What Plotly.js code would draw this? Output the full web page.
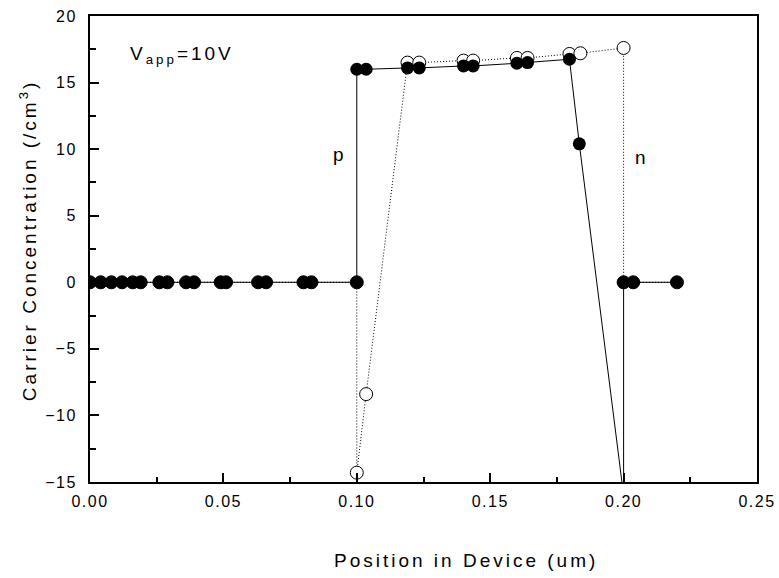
<!DOCTYPE html>
<html>
<head>
<meta charset="utf-8">
<script src="https://cdn.plot.ly/plotly-3.0.1.min.js"></script>
<style>
  html, body { margin: 0; padding: 0; background: #fff; }
  #chart { width: 779px; height: 578px; }
  .xtick text, .ytick text { letter-spacing: 1.5px; }
  .annotation-text { letter-spacing: 3px; }
</style>
</head>
<body>
<div id="chart"></div>
<script>
// Filled circles (solid line)
const filledX = [0, 0.004, 0.008, 0.012, 0.016, 0.019, 0.026, 0.029, 0.036, 0.039, 0.049, 0.051, 0.063, 0.066, 0.080, 0.083, 0.100,
                 0.100, 0.1035, 0.119, 0.1234, 0.140, 0.1436, 0.160, 0.164, 0.1797, 0.1834, 0.200, 0.200, 0.2036, 0.220];
const filledY = [0, 0, 0, 0, 0, 0, 0, 0, 0, 0, 0, 0, 0, 0, 0, 0, 0,
                 16.0, 16.0, 16.1, 16.1, 16.25, 16.25, 16.45, 16.5, 16.75, 10.4, -16, 0, 0, 0];
// Open circles (dotted line)
const openX = [0, 0.004, 0.008, 0.012, 0.016, 0.019, 0.026, 0.029, 0.036, 0.039, 0.049, 0.051, 0.063, 0.066, 0.080, 0.083, 0.100,
               0.100, 0.1035, 0.119, 0.1234, 0.140, 0.1436, 0.160, 0.164, 0.1797, 0.1838, 0.200, 0.200, 0.2036, 0.220];
const openY = [0, 0, 0, 0, 0, 0, 0, 0, 0, 0, 0, 0, 0, 0, 0, 0, 0,
               -14.3, -8.4, 16.5, 16.5, 16.65, 16.65, 16.85, 16.85, 17.15, 17.2, 17.6, 0, 0, 0];

const xTickVals = [0, 0.05, 0.10, 0.15, 0.20, 0.25];
const xTickText = ['0.00', '0.05', '0.10', '0.15', '0.20', '0.25'];
const yTickVals = [-15, -10, -5, 0, 5, 10, 15, 20];

const labelFont = {family: 'Liberation Sans, Arial, sans-serif', size: 19, color: '#000'};

const traces = [
  {
    x: openX, y: openY, type: 'scatter', mode: 'lines+markers',
    line: {color: '#000', width: 1, dash: '1px,2px'},
    marker: {symbol: 'circle', size: 13, color: '#fff', line: {color: '#000', width: 1}},
    showlegend: false, hoverinfo: 'skip'
  },
  {
    x: filledX, y: filledY, type: 'scatter', mode: 'lines+markers',
    line: {color: '#000', width: 1},
    marker: {symbol: 'circle', size: 13, color: '#000', line: {color: '#000', width: 0}},
    showlegend: false, hoverinfo: 'skip'
  }
];

const axisCommon = {
  showgrid: false, zeroline: false,
  showline: true, linecolor: '#000', linewidth: 2, mirror: true,
  ticks: 'inside', ticklen: 9, tickwidth: 2, tickcolor: '#000',
  tickfont: {family: 'Liberation Sans, Arial, sans-serif', size: 16, color: '#000'}
};

const layout = {
  width: 779, height: 578,
  margin: {l: 90, r: 22, t: 16, b: 96},
  paper_bgcolor: '#fff', plot_bgcolor: '#fff',
  showlegend: false,
  xaxis: Object.assign({}, axisCommon, {
    range: [0, 0.25], tickmode: 'array', tickvals: xTickVals, ticktext: xTickText,
    ticklabelstandoff: 4,
    minor: {ticks: 'inside', ticklen: 5, tickwidth: 2, tickcolor: '#000', dtick: 0.025, tick0: 0}
  }),
  yaxis: Object.assign({}, axisCommon, {
    range: [-15, 20], tickmode: 'array', tickvals: yTickVals,
    ticklabelstandoff: 8,
    minor: {ticks: 'inside', ticklen: 6, tickwidth: 2, tickcolor: '#000', dtick: 2.5, tick0: 0}
  }),
  annotations: [
    {x: 0.0143, y: 17.1, xref: 'x', yref: 'y', xanchor: 'left', yanchor: 'middle',
     text: 'V<sub>app</sub>=10V', showarrow: false, font: labelFont},
    {x: 0.0937, y: 9.6, xref: 'x', yref: 'y', xanchor: 'center', yanchor: 'middle',
     text: 'p', showarrow: false, font: labelFont},
    {x: 0.207, y: 9.4, xref: 'x', yref: 'y', xanchor: 'center', yanchor: 'middle',
     text: 'n', showarrow: false, font: labelFont},
    {x: 0.564, y: 0, xref: 'paper', yref: 'paper', xanchor: 'center', yanchor: 'middle',
     yshift: -78, text: 'Position in Device (um)', showarrow: false, font: labelFont},
    {x: 0, y: 0.519, xref: 'paper', yref: 'paper', xanchor: 'center', yanchor: 'middle',
     xshift: -62, textangle: -90, text: 'Carrier Concentration (/cm<sup>3</sup>)', showarrow: false, font: labelFont}
  ]
};

Plotly.newPlot('chart', traces, layout, {staticPlot: true, displayModeBar: false});
</script>
</body>
</html>
